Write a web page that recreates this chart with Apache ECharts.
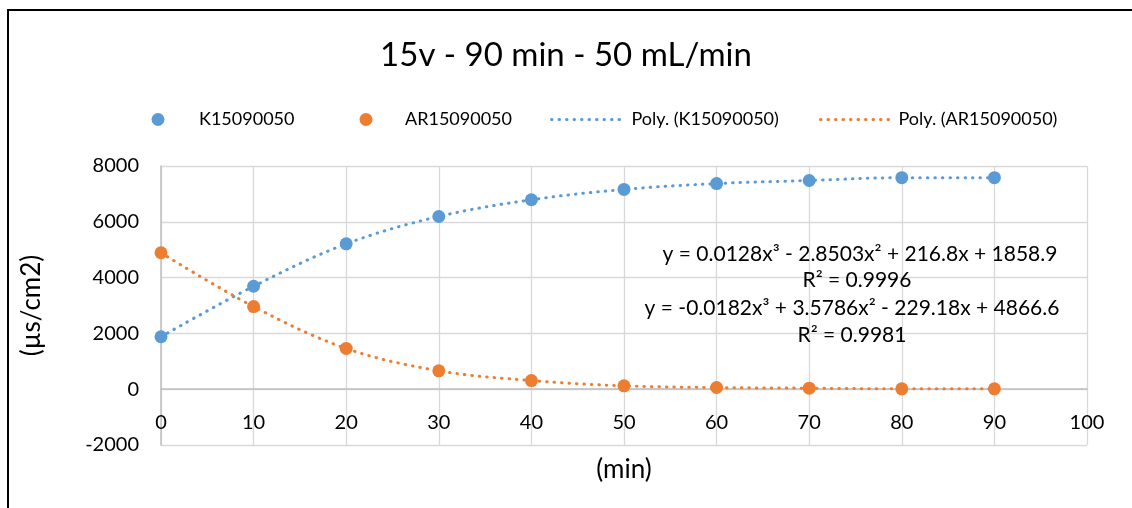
<!DOCTYPE html>
<html><head><meta charset="utf-8">
<script src="https://cdn.jsdelivr.net/npm/echarts@6/dist/echarts.min.js"></script>
<style>html,body{margin:0;padding:0;background:#fff}#c{width:1132px;height:508px}</style>
</head><body><div id="c"></div>
<script>
const minutes = [0, 10, 20, 30, 40, 50, 60, 70, 80, 90];
const k15090050 = [1880, 3690, 5210, 6190, 6790, 7160, 7370, 7480, 7580, 7580];
const ar15090050 = [4890, 2960, 1460, 660, 310, 120, 60, 36, 12, 12];
const seriesNames = ['K15090050', 'AR15090050', 'Poly. (K15090050)', 'Poly. (AR15090050)'];
const equationTexts = [
  'y = 0.0128x³ - 2.8503x² + 216.8x + 1858.9',
  'R² = 0.9996',
  'y = -0.0182x³ + 3.5786x² - 229.18x + 4866.6',
  'R² = 0.9981'
];
const titleText = '15v - 90 min - 50 mL/min';
const xAxisName = '(min)';
const yAxisName = '(µs/cm2)';

const FONT = 'Lato';
const BLUE = '#5B9BD5';
const ORANGE = '#ED7D31';
const pairs = (ys) => minutes.map((x, i) => [x, ys[i]]);
const dotted = { type: [0.5, 7], cap: 'round', width: 3 };

function legendItem(name, left, width, pad, isLine) {
  const o = {
    data: [isLine ? { name: name } : { name: name, icon: 'circle' }],
    left: left, top: 110.5, padding: 0, itemWidth: width, itemHeight: 13, itemGap: 0,
    formatter: (n) => '{p| }' + n,
    textStyle: { fontFamily: FONT, fontSize: 18, color: '#000', rich: { p: { width: pad, fontSize: 18 } } }
  };
  if (isLine) {
    o.itemStyle = { opacity: 0 };
    o.lineStyle = { type: [0.5, 7], cap: 'round', width: 3 };
  }
  return o;
}

const chart = echarts.init(document.getElementById('c'), null, { renderer: 'canvas' });
chart.setOption({
  animation: false,
  backgroundColor: '#fff',
  textStyle: { fontFamily: FONT },
  title: {
    text: titleText, left: 'center', top: 38.5, padding: 0,
    textStyle: { fontFamily: FONT, fontSize: 33, fontWeight: 'normal', color: '#000' }
  },
  legend: [
    legendItem(seriesNames[0], 151.5, 50, 11, false),
    legendItem(seriesNames[1], 359.5, 50, 9, false),
    legendItem(seriesNames[2], 550, 70, 5, true),
    legendItem(seriesNames[3], 819, 70, 3, true)
  ],
  grid: { left: 161, right: 45, top: 166, bottom: 63, containLabel: false, outerBoundsMode: 'none' },
  xAxis: {
    type: 'value', min: 0, max: 100, interval: 10,
    name: xAxisName, nameLocation: 'middle', nameGap: 12,
    nameTextStyle: { fontFamily: FONT, fontSize: 26, color: '#000' },
    axisLine: { show: true, onZero: true, lineStyle: { color: '#bfbfbf', width: 1.5 } },
    axisTick: { show: false },
    axisLabel: { fontFamily: FONT, fontSize: 20, color: '#000', margin: -32 },
    splitLine: { show: true, lineStyle: { color: '#d9d9d9', width: 1.3 } }
  },
  yAxis: {
    type: 'value', min: -2000, max: 8000, interval: 2000,
    name: yAxisName, nameLocation: 'middle', nameGap: 116, nameRotate: 90,
    nameTextStyle: { fontFamily: FONT, fontSize: 26, color: '#000' },
    axisLine: { show: true, onZero: false, lineStyle: { color: '#bfbfbf', width: 1.5 } },
    axisTick: { show: false },
    axisLabel: { fontFamily: FONT, fontSize: 20, color: '#000', margin: 22, formatter: (v) => String(v) },
    splitLine: { show: true, lineStyle: { color: '#d9d9d9', width: 1.3 } }
  },
  series: [
    { name: seriesNames[2], type: 'line', data: pairs(k15090050), smooth: 0.35, showSymbol: false, symbol: 'none',
      lineStyle: Object.assign({ color: BLUE }, dotted), itemStyle: { color: BLUE }, z: 2 },
    { name: seriesNames[3], type: 'line', data: pairs(ar15090050), smooth: 0.35, showSymbol: false, symbol: 'none',
      lineStyle: Object.assign({ color: ORANGE }, dotted), itemStyle: { color: ORANGE }, z: 2 },
    { name: seriesNames[0], type: 'scatter', data: pairs(k15090050), symbolSize: 13,
      itemStyle: { color: BLUE, opacity: 1 }, z: 3 },
    { name: seriesNames[1], type: 'scatter', data: pairs(ar15090050), symbolSize: 13,
      itemStyle: { color: ORANGE, opacity: 1 }, z: 3 }
  ],
  graphic: [
    { type: 'rect', shape: { x: 8, y: 10, width: 1400, height: 800 }, silent: true,
      style: { fill: 'none', stroke: '#000', lineWidth: 2 }, z: 100 },
    { type: 'text', x: 860, y: 254, silent: true, z: 50,
      style: { text: equationTexts[0], fontFamily: FONT, fontSize: 21, fill: '#000', align: 'center', verticalAlign: 'middle' } },
    { type: 'text', x: 857, y: 280, silent: true, z: 50,
      style: { text: equationTexts[1], fontFamily: FONT, fontSize: 21, fill: '#000', align: 'center', verticalAlign: 'middle' } },
    { type: 'text', x: 852, y: 308, silent: true, z: 50,
      style: { text: equationTexts[2], fontFamily: FONT, fontSize: 21, fill: '#000', align: 'center', verticalAlign: 'middle' } },
    { type: 'text', x: 852, y: 335, silent: true, z: 50,
      style: { text: equationTexts[3], fontFamily: FONT, fontSize: 21, fill: '#000', align: 'center', verticalAlign: 'middle' } }
  ]
});
</script></body></html>
